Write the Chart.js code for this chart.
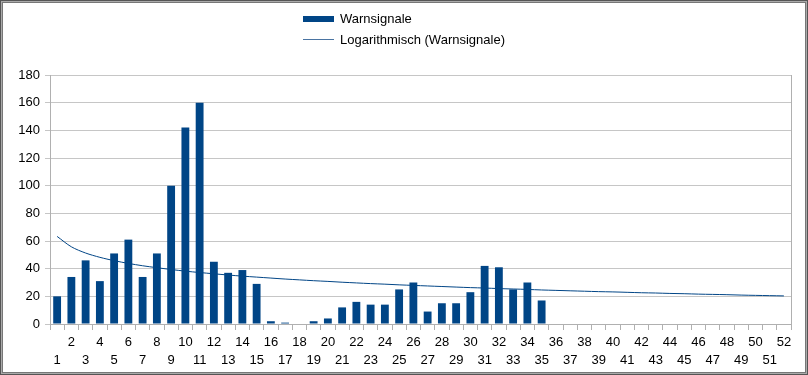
<!DOCTYPE html>
<html>
<head>
<meta charset="utf-8">
<script src="https://cdn.jsdelivr.net/npm/chart.js@4"></script>
<style>
    body { margin: 0; background: #fff; }
    #frame {
        position: relative;
        width: 808px;
        height: 375px;
        box-sizing: border-box;
        box-shadow: inset 0 0 0 1px #555, inset 0 0 0 2px #aaa, inset 0 0 0 3px #777;
        font-family: "Liberation Sans", Arial, sans-serif;
    }
    #chart { position: absolute; left: 0; top: 0; }
    #legend { position: absolute; left: 303px; top: 8px; font-size: 13px; color: #000; }
    .item { display: flex; align-items: center; height: 21px; }
    .swatch { width: 31px; margin-right: 6px; }
</style>
</head>
<body>
<div id="frame">
    <canvas id="chart" width="808" height="375"></canvas>
    <div id="legend"></div>
</div>
<script>
// Weeks 1..52
const weeks = Array.from({ length: 52 }, (_, i) => String(i + 1));

// Warnsignale per week
const warnsignale = [
    20, 34, 46, 31, 51, 61, 34, 51, 100, 142,
    160, 45, 37, 39, 29, 2, 1, 0, 2, 4,
    12, 16, 14, 14, 25, 30, 9, 15, 15, 23,
    42, 41, 25, 30, 17, 0, 0, 0, 0, 0,
    0, 0, 0, 0, 0, 0, 0, 0, 0, 0,
    0, 0
];

// Logarithmic trend line values
const trend = [
    63.3, 55.8, 51.3, 48.2, 45.8, 43.8, 42.1, 40.7, 39.4, 38.2,
    37.2, 36.3, 35.4, 34.6, 33.9, 33.2, 32.5, 31.9, 31.3, 30.8,
    30.2, 29.7, 29.2, 28.8, 28.3, 27.9, 27.5, 27.1, 26.7, 26.3,
    26.0, 25.6, 25.3, 25.0, 24.6, 24.3, 24.0, 23.7, 23.4, 23.2,
    22.9, 22.6, 22.4, 22.1, 21.9, 21.6, 21.4, 21.2, 20.9, 20.7,
    20.5, 20.3
];

const yTicks = [0, 20, 40, 60, 80, 100, 120, 140, 160, 180];

const blue = "#004586";
const gridGray = "#c6c6c6";
const axisGray = "#b0b0b0";

// Right edge of the plot area
const rightBorder = {
    id: "rightBorder",
    afterDraw(chart) {
        const { ctx, chartArea } = chart;
        ctx.save();
        ctx.strokeStyle = axisGray;
        ctx.lineWidth = 1;
        ctx.beginPath();
        ctx.moveTo(Math.round(chartArea.right) + 0.5, chartArea.top);
        ctx.lineTo(Math.round(chartArea.right) + 0.5, chartArea.bottom);
        ctx.stroke();
        ctx.restore();
    }
};

const chart = new Chart(document.getElementById("chart"), {
    type: "bar",
    data: {
        labels: weeks,
        datasets: [
            {
                type: "line",
                label: "Logarithmisch (Warnsignale)",
                data: trend,
                borderColor: blue,
                borderWidth: 1,
                pointRadius: 0,
                tension: 0.3,
                fill: false,
                order: 0
            },
            {
                label: "Warnsignale",
                data: warnsignale,
                backgroundColor: blue,
                barPercentage: 0.55,
                categoryPercentage: 1,
                order: 1
            }
        ]
    },
    options: {
        responsive: false,
        animation: false,
        layout: { padding: { top: 75, right: 17, bottom: 0, left: 0 } },
        plugins: {
            legend: { display: false },
            tooltip: { enabled: false }
        },
        scales: {
            x: {
                grid: {
                    drawOnChartArea: false,
                    color: axisGray,
                    tickLength: 6,
                    offset: true
                },
                border: { color: axisGray },
                ticks: {
                    autoSkip: false,
                    maxRotation: 0,
                    minRotation: 0,
                    padding: 3,
                    color: "#000",
                    font: { family: "Liberation Sans", size: 13, lineHeight: 1.4 },
                    callback: (value, index) => {
                        const lbl = weeks[index];
                        return index % 2 === 1 ? [lbl] : ["", lbl];
                    }
                },
                afterFit: (scale) => { scale.height = 51; }
            },
            y: {
                min: 0,
                max: 180,
                afterBuildTicks: (scale) => { scale.ticks = yTicks.map((v) => ({ value: v })); },
                grid: { color: gridGray, tickLength: 5 },
                border: { color: axisGray },
                ticks: {
                    padding: 5,
                    color: "#000",
                    font: { family: "Liberation Sans", size: 13 }
                },
                afterFit: (scale) => { scale.width = 50; }
            }
        }
    },
    plugins: [rightBorder]
});

// Legend: bars on top, trend line below
const legend = document.getElementById("legend");
const legendItems = [
    { label: chart.data.datasets[1].label, kind: "bar" },
    { label: chart.data.datasets[0].label, kind: "line" }
];
legendItems.forEach((it) => {
    const row = document.createElement("div");
    row.className = "item";
    const sw = document.createElement("span");
    sw.className = "swatch";
    if (it.kind === "bar") {
        sw.style.height = "6px";
        sw.style.background = blue;
    } else {
        sw.style.height = "1px";
        sw.style.background = "#4a74a2";
    }
    const tx = document.createElement("span");
    tx.textContent = it.label;
    row.appendChild(sw);
    row.appendChild(tx);
    legend.appendChild(row);
});
</script>
</body>
</html>
